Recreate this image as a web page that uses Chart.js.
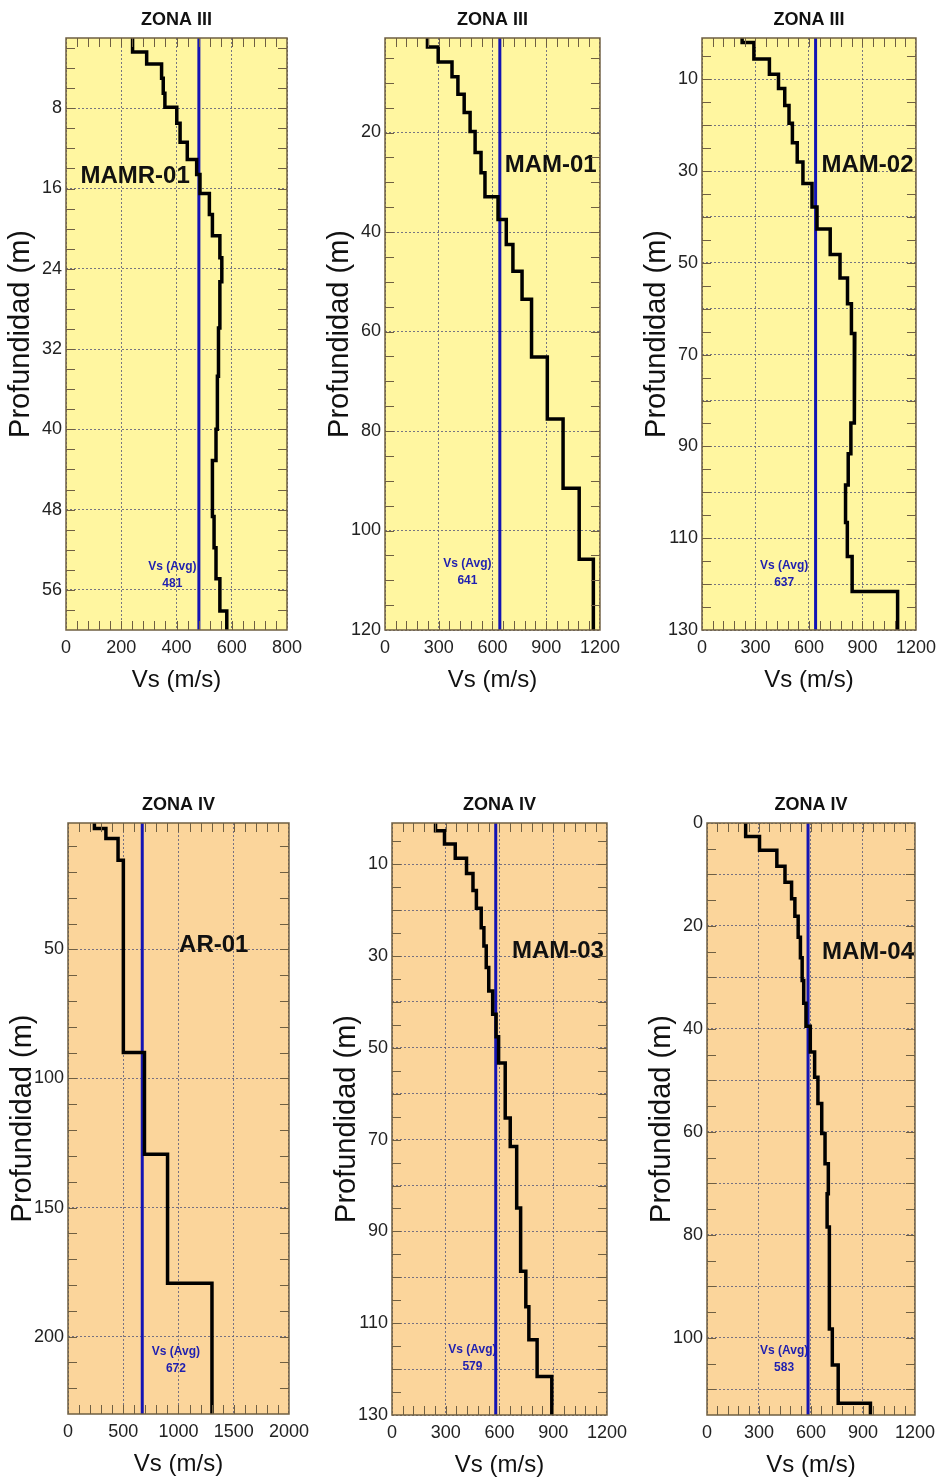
<!DOCTYPE html>
<html>
<head>
<meta charset="utf-8">
<script src="https://cdn.jsdelivr.net/npm/chart.js@4.4.0/dist/chart.umd.min.js"></script>
<style>
html, body { margin: 0; padding: 0; background: #fff; width: 941px; height: 1481px; overflow: hidden; }
canvas { position: absolute; }
</style>
</head>
<body>
<canvas id="c1"></canvas>
<canvas id="c2"></canvas>
<canvas id="c3"></canvas>
<canvas id="c4"></canvas>
<canvas id="c5"></canvas>
<canvas id="c6"></canvas>
<script>
// --- data (depth = layer boundaries in m, Vs in m/s) ---
const zoneTitles = ['ZONA III', 'ZONA III', 'ZONA III', 'ZONA IV', 'ZONA IV', 'ZONA IV'];
const stations = ['MAMR-01', 'MAM-01', 'MAM-02', 'AR-01', 'MAM-03', 'MAM-04'];
const vsAvg = [481, 641, 637, 672, 579, 583];

const mamr01Depth = [1, 2.4, 3.6, 5.0, 6.5, 7.9, 9.5, 11.4, 13.1, 14.6, 16.5, 18.6, 20.7, 22.9, 25.3, 29.9, 34.7, 40.0, 43.1, 48.7, 51.8, 54.9, 58.1, 60];
const mamr01Vs = [241, 292, 346, 352, 358, 401, 413, 439, 473, 485, 519, 530, 557, 564, 557, 552, 548, 543, 530, 536, 543, 557, 582];

const mam01Depth = [1, 2.8, 5.8, 8.8, 12.3, 16.0, 19.8, 24.0, 28.1, 32.9, 37.5, 42.5, 47.9, 53.5, 65.1, 77.6, 91.5, 105.8, 120];
const mam01Vs = [237, 297, 374, 407, 442, 475, 503, 536, 558, 631, 677, 714, 765, 818, 906, 994, 1084, 1163];

const mam02Depth = [1, 2.0, 5.6, 8.9, 12.0, 15.7, 19.6, 23.8, 28.0, 32.7, 37.8, 42.6, 48.2, 53.3, 58.9, 65.4, 77.6, 84.9, 91.6, 98.4, 106.6, 114.0, 121.6, 130];
const mam02Vs = [225, 291, 378, 429, 464, 488, 507, 534, 566, 617, 645, 719, 774, 816, 838, 857, 853, 835, 820, 805, 815, 842, 1097];

const ar01Depth = [1, 3.1, 7.0, 15.4, 89.9, 129.4, 179.3, 230];
const ar01Vs = [239, 343, 453, 501, 692, 901, 1303];

const mam03Depth = [1, 2.7, 5.6, 8.7, 12.0, 15.7, 19.6, 23.8, 27.8, 32.5, 37.6, 42.7, 47.6, 53.3, 65.3, 71.5, 84.9, 98.7, 106.4, 113.6, 121.6, 130];
const mam03Vs = [243, 293, 353, 416, 452, 471, 498, 513, 526, 540, 562, 581, 595, 632, 660, 696, 718, 747, 764, 810, 892];

const mam04Depth = [0, 2.6, 5.3, 8.4, 11.5, 14.7, 18.1, 22.2, 26.2, 30.6, 35.0, 39.5, 44.5, 49.4, 54.5, 60.3, 66.2, 72.0, 78.5, 98.3, 105.3, 112.7, 115];
const mam04Vs = [223, 303, 403, 450, 488, 507, 526, 539, 549, 558, 571, 596, 621, 640, 662, 681, 700, 693, 706, 723, 757, 943];

// axis ticks
const xTicks800 = [0, 200, 400, 600, 800];
const xTicks1200 = [0, 300, 600, 900, 1200];
const xTicks2000 = [0, 500, 1000, 1500, 2000];
const yTicks60 = [8, 16, 24, 32, 40, 48, 56];
const yTicks120 = [20, 40, 60, 80, 100, 120];
const yGrid130 = [10, 20, 30, 40, 50, 60, 70, 80, 90, 100, 110, 120, 130];
const yLabels130 = [10, 30, 50, 70, 90, 110, 130];
const yTicks230 = [50, 100, 150, 200];
const yGrid115 = [0, 10, 20, 30, 40, 50, 60, 70, 80, 90, 100, 110];
const yLabels115 = [0, 20, 40, 60, 80, 100];

// --- layout / style ---
const FONT = '"Liberation Sans", Arial, sans-serif';
const YELLOW = '#FFF6A0';
const ORANGE = '#FBD59B';
const FRAME = '#6f5f42';
const GRID = 'rgba(95,95,125,0.85)';
const Y_AXIS_W = 66, TITLE_H = 38, X_AXIS_H = 75, PAD_R = 24;

const panels = [
  { id: 'c1', box: [66, 38, 287, 630], depth: mamr01Depth, vs: mamr01Vs, xTicks: xTicks800, xMinor: 40,
    yMin: 1, yMax: 60, yGrid: yTicks60, yLabels: yTicks60, yMinor: 2, bg: YELLOW, nameAt: [250, 14.8], avgAt: [385, 53.7] },
  { id: 'c2', box: [385, 38, 603, 630], depth: mam01Depth, vs: mam01Vs, xTicks: xTicks1200, xMinor: 60,
    yMin: 1, yMax: 120, yGrid: yTicks120, yLabels: yTicks120, yMinor: 5, bg: YELLOW, nameAt: [925, 26.6], avgAt: [460, 106.6] },
  { id: 'c3', box: [702, 38, 919, 630], depth: mam02Depth, vs: mam02Vs, xTicks: xTicks1200, xMinor: 60,
    yMin: 1, yMax: 130, yGrid: yGrid130, yLabels: yLabels130, yMinor: 5, bg: YELLOW, nameAt: [928, 28.7], avgAt: [461, 116.0] },
  { id: 'c4', box: [68, 823, 292, 1414], depth: ar01Depth, vs: ar01Vs, xTicks: xTicks2000, xMinor: 100,
    yMin: 1, yMax: 230, yGrid: yTicks230, yLabels: yTicks230, yMinor: 10, bg: ORANGE, nameAt: [1319, 48.3], avgAt: [977, 205.7] },
  { id: 'c5', box: [392, 823, 610, 1415], depth: mam03Depth, vs: mam03Vs, xTicks: xTicks1200, xMinor: 60,
    yMin: 1, yMax: 130, yGrid: yGrid130, yLabels: yLabels130, yMinor: 5, bg: ORANGE, nameAt: [926, 28.9], avgAt: [449, 115.8] },
  { id: 'c6', box: [707, 823, 918, 1415], depth: mam04Depth, vs: mam04Vs, xTicks: xTicks1200, xMinor: 60,
    yMin: 0, yMax: 115, yGrid: yGrid115, yLabels: yLabels115, yMinor: 5, bg: ORANGE, nameAt: [929, 25.1], avgAt: [445, 102.5] }
];

function stepPoints(depth, vs) {
  const pts = [];
  vs.forEach((v, i) => {
    pts.push({ x: v, y: depth[i] }, { x: v, y: depth[i + 1] });
  });
  return pts;
}

function minorValues(min, max, step) {
  const out = [];
  for (let v = Math.ceil(min / step) * step; v < max; v += step) {
    if (v > min) out.push(v);
  }
  return out;
}

function decoPlugin(p, i) {
  return {
    id: 'deco' + i,
    beforeDraw(chart) {
      const { ctx, chartArea: a } = chart;
      ctx.save();
      ctx.fillStyle = p.bg;
      ctx.fillRect(a.left, a.top, a.width, a.height);
      // panel title over the plot area
      ctx.fillStyle = '#111';
      ctx.font = 'bold 18px ' + FONT;
      ctx.textAlign = 'center';
      ctx.textBaseline = 'middle';
      ctx.fillText(zoneTitles[i], (a.left + a.right) / 2, a.top - 18);
      ctx.restore();
    },
    beforeDatasetsDraw(chart) {
      const { ctx, scales: { x, y } } = chart;
      ctx.save();
      ctx.textAlign = 'center';
      ctx.textBaseline = 'middle';
      ctx.fillStyle = '#111';
      ctx.font = 'bold 24px ' + FONT;
      ctx.fillText(stations[i], x.getPixelForValue(p.nameAt[0]), y.getPixelForValue(p.nameAt[1]));
      const ax = x.getPixelForValue(p.avgAt[0]), ay = y.getPixelForValue(p.avgAt[1]);
      ctx.fillStyle = '#1f1fb0';
      ctx.font = 'bold 12px ' + FONT;
      ctx.fillText('Vs (Avg)', ax, ay);
      ctx.fillText(String(vsAvg[i]), ax, ay + 17);
      ctx.restore();
    },
    afterDraw(chart) {
      const { ctx, chartArea: a, scales: { x, y } } = chart;
      const xMax = p.xTicks[p.xTicks.length - 1];
      ctx.save();
      ctx.strokeStyle = FRAME;
      ctx.lineWidth = 1;
      ctx.beginPath();
      minorValues(0, xMax, p.xMinor).forEach(v => {
        const px = Math.round(x.getPixelForValue(v)) + 0.5;
        ctx.moveTo(px, a.top); ctx.lineTo(px, a.top + 9);
        ctx.moveTo(px, a.bottom); ctx.lineTo(px, a.bottom - 9);
      });
      minorValues(p.yMin, p.yMax, p.yMinor).forEach(v => {
        const py = Math.round(y.getPixelForValue(v)) + 0.5;
        ctx.moveTo(a.left, py); ctx.lineTo(a.left + 9, py);
        ctx.moveTo(a.right, py); ctx.lineTo(a.right - 9, py);
      });
      ctx.stroke();
      ctx.lineWidth = 1.5;
      ctx.strokeRect(a.left, a.top, a.width, a.height);
      ctx.restore();
    }
  };
}

panels.forEach((p, i) => {
  const [L, T, R, B] = p.box;
  const cv = document.getElementById(p.id);
  cv.width = (R - L) + Y_AXIS_W + PAD_R;
  cv.height = (B - T) + TITLE_H + X_AXIS_H;
  cv.style.left = (L - Y_AXIS_W) + 'px';
  cv.style.top = (T - TITLE_H) + 'px';

  new Chart(cv, {
    type: 'scatter',
    data: {
      datasets: [
        { data: stepPoints(p.depth, p.vs), showLine: true, borderColor: '#000', borderWidth: 3.5,
          pointRadius: 0, borderJoinStyle: 'miter', tension: 0 },
        { data: [{ x: vsAvg[i], y: p.yMin }, { x: vsAvg[i], y: p.yMax }], showLine: true,
          borderColor: '#1414b4', borderWidth: 3, pointRadius: 0 }
      ]
    },
    options: {
      responsive: false,
      animation: false,
      events: [],
      layout: { padding: { left: 0, top: TITLE_H, right: PAD_R, bottom: 0 } },
      plugins: {
        legend: { display: false },
        tooltip: { enabled: false },
        title: { display: false }
      },
      scales: {
        x: {
          type: 'linear', position: 'bottom', min: 0, max: p.xTicks[p.xTicks.length - 1],
          afterBuildTicks: s => { s.ticks = p.xTicks.map(v => ({ value: v })); },
          afterFit: s => { s.height = X_AXIS_H; },
          grid: { color: GRID, lineWidth: 1, drawTicks: false },
          border: { display: false, dash: [2, 2] },
          ticks: { autoSkip: false, maxRotation: 0, padding: 7, color: '#222', font: { family: FONT, size: 18 },
            callback: v => String(v) },
          title: { display: true, text: 'Vs (m/s)', color: '#111', font: { family: FONT, size: 24 },
            padding: { top: 0, bottom: 10 } }
        },
        y: {
          type: 'linear', reverse: true, min: p.yMin, max: p.yMax,
          afterBuildTicks: s => { s.ticks = p.yGrid.map(v => ({ value: v })); },
          afterFit: s => { s.width = Y_AXIS_W; },
          grid: { color: GRID, lineWidth: 1, drawTicks: false },
          border: { display: false, dash: [2, 2] },
          ticks: { autoSkip: false, padding: 4, color: '#222', font: { family: FONT, size: 18 },
            callback: v => p.yLabels.includes(v) ? String(v) : '' },
          title: { display: true, text: 'Profundidad (m)', color: '#111', font: { family: FONT, size: 29 },
            padding: { top: 4, bottom: 0 } }
        }
      }
    },
    plugins: [decoPlugin(p, i)]
  });
});
</script>
</body>
</html>
